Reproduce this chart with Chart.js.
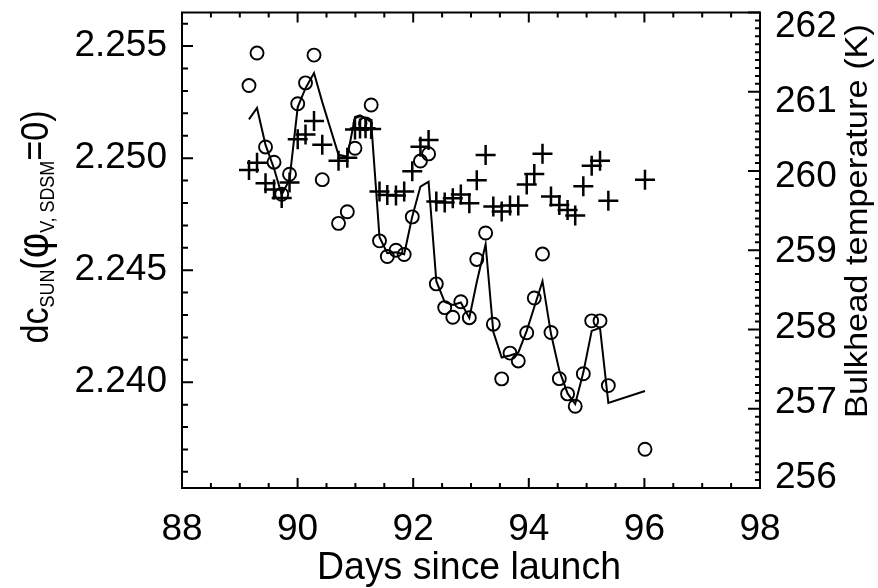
<!DOCTYPE html>
<html>
<head>
<meta charset="utf-8">
<title>dc_SUN vs days since launch</title>
<script src="https://cdn.jsdelivr.net/npm/chart.js@4.4.0/dist/chart.umd.min.js"></script>
<style>
  html, body { margin: 0; padding: 0; background: #fff; }
  #wrap { width: 878px; height: 588px; }
</style>
</head>
<body>
<div id="wrap"><canvas id="chart" width="878" height="588"></canvas></div>
<script>
// --- data ---
const days = [89.159, 89.298, 89.445, 89.592, 89.725, 89.860, 90.002, 90.137, 90.284, 90.427,
              90.708, 90.860, 90.993, 91.080, 91.175, 91.273, 91.417, 91.552, 91.702, 91.844,
              91.984, 92.125, 92.266, 92.400, 92.545, 92.685, 92.824, 92.971, 93.100, 93.253,
              93.386, 93.531, 93.675, 93.818, 93.964, 94.095, 94.237, 94.384, 94.528, 94.671,
              94.803, 94.943, 95.088, 95.232, 95.376, 96.010];

// open circles (left axis)
const dcObserved = [2.25324, 2.25469, 2.25050, 2.24982, 2.24839, 2.24928, 2.25243, 2.25336, 2.25460, 2.24904,
                    2.24709, 2.24761, 2.25044, 2.25157, 2.25153, 2.25237, 2.24631, 2.24561, 2.24589, 2.24570,
                    2.24738, 2.24987, 2.25019, 2.24439, 2.24333, 2.24290, 2.24359, 2.24288, 2.24548, 2.24666,
                    2.24259, 2.24015, 2.24130, 2.24095, 2.24221, 2.24376, 2.24572, 2.24222, 2.24016, 2.23948,
                    2.23893, 2.24038, 2.24274, 2.24274, 2.23985, 2.23701];

// solid line (left axis)
const dcModel = [2.25173, 2.25224, 2.25059, 2.24954, 2.24837, 2.24904, 2.25228, 2.25312, 2.25380, 2.25250,
                 2.25015, 2.25006, 2.25184, 2.25191, 2.25179, 2.25161, 2.24647, 2.24576, 2.24580, 2.24571,
                 2.24740, 2.24873, 2.24895, 2.24451, 2.24358, 2.24345, 2.24356, 2.24287, 2.24447, 2.24616,
                 2.24225, 2.24110, 2.24119, 2.24132, 2.24229, 2.24336, 2.24451, 2.24216, 2.24052, 2.23950,
                 2.23903, 2.24043, 2.24229, 2.24243, 2.23908, 2.23961];

// plus signs (right axis, K)
const bulkheadTemp = [260.013, 260.105, 259.845, 259.766, 259.659, 259.854, 260.400, 260.462, 260.632, 260.331,
                      260.130, 260.167, 260.525, 260.535, 260.538, 260.531, 259.741, 259.697, 259.690, 259.741,
                      259.998, 260.306, 260.390, 259.615, 259.603, 259.657, 259.703, 259.594, 259.883, 260.201,
                      259.552, 259.490, 259.565, 259.565, 259.829, 259.963, 260.218, 259.678, 259.571, 259.508,
                      259.439, 259.807, 260.067, 260.130, 259.624, 259.891];

// tick labels
const xTicks = [88, 90, 92, 94, 96, 98];
const dcTicks = [2.240, 2.245, 2.250, 2.255];
const tempTicks = [256, 257, 258, 259, 260, 261, 262];

const FONT = "'Liberation Sans', Arial, sans-serif";

// frame + inward ticks (IDL style), drawn through the chart scales
const frameTicks = {
    id: 'frameTicks',
    afterDatasetsDraw(chart) {
        const { ctx, chartArea: a, scales } = chart;
        ctx.save();
        ctx.strokeStyle = '#000';
        ctx.lineWidth = 2;
        ctx.strokeRect(a.left, a.top, a.right - a.left, a.bottom - a.top);
        ctx.beginPath();
        // x: minor every 0.5 day, major every 2
        for (let k = 176; k <= 196; k++) {
            const px = scales.x.getPixelForValue(k / 2);
            const len = (k % 4 === 0) ? 10 : 5;
            ctx.moveTo(px, a.bottom); ctx.lineTo(px, a.bottom - len);
            ctx.moveTo(px, a.top); ctx.lineTo(px, a.top + len);
        }
        // left: minor every 0.001
        for (let k = 2236; k <= 2256; k++) {
            const py = scales.y.getPixelForValue(k / 1000);
            const len = (k % 5 === 0) ? 11 : 6;
            ctx.moveTo(a.left, py); ctx.lineTo(a.left + len, py);
        }
        // right: minor every 0.1 K
        for (let k = 2560; k <= 2620; k++) {
            const py = scales.y1.getPixelForValue(k / 10);
            const len = (k % 10 === 0) ? 12 : 5;
            ctx.moveTo(a.right, py); ctx.lineTo(a.right - len, py);
        }
        ctx.stroke();

        // right tick labels: pulled slightly inward like the original
        const mid = (a.top + a.bottom) / 2;
        ctx.fillStyle = '#000';
        ctx.font = '37px ' + FONT;
        ctx.textAlign = 'left';
        ctx.textBaseline = 'middle';
        tempTicks.forEach(v => {
            const py = scales.y1.getPixelForValue(v);
            ctx.fillText(String(v), a.right + 15, mid + (py - mid) * 0.95 + 2);
        });
        ctx.restore();
    }
};

// axis titles (subscripts need rich text)
const axisTitles = {
    id: 'axisTitles',
    afterDraw(chart) {
        const ctx = chart.ctx;
        ctx.save();
        ctx.fillStyle = '#000';
        ctx.textBaseline = 'alphabetic';

        // left title
        const F = 38, f = 20;
        const parts = [
            { t: 'dc', size: F, dy: 0 },
            { t: 'SUN', size: f, dy: 6 },
            { t: '(', size: F, dy: 0 },
            { t: '\u03C6', size: F * 1.15, dy: 0 },
            { t: 'V, SDSM', size: f, dy: 6 },
            { t: '=0)', size: F, dy: 0 }
        ];
        let total = 0;
        parts.forEach(p => {
            ctx.font = p.size + 'px ' + FONT;
            p.w = ctx.measureText(p.t).width;
            total += p.w;
        });
        ctx.save();
        ctx.translate(48, 227);
        ctx.rotate(-Math.PI / 2);
        ctx.scale(233 / total, 1);
        ctx.textAlign = 'left';
        let x = -total / 2;
        parts.forEach(p => {
            ctx.font = p.size + 'px ' + FONT;
            ctx.fillText(p.t, x, p.dy);
            x += p.w;
        });
        ctx.restore();

        // right title
        ctx.save();
        ctx.font = '31px ' + FONT;
        const rt = 'Bulkhead temperature (K)';
        const rw = ctx.measureText(rt).width;
        ctx.translate(867, 221);
        ctx.rotate(-Math.PI / 2);
        ctx.scale(394 / rw, 1);
        ctx.textAlign = 'center';
        ctx.fillText(rt, 0, 0);
        ctx.restore();

        // bottom title
        ctx.save();
        ctx.font = '36px ' + FONT;
        const bt = 'Days since launch';
        const bw = ctx.measureText(bt).width;
        ctx.translate(469, 579);
        ctx.scale(304 / bw, 1.1);
        ctx.textAlign = 'center';
        ctx.fillText(bt, 0, 0);
        ctx.restore();

        ctx.restore();
    }
};

const toPoints = ys => days.map((d, i) => ({ x: d, y: ys[i] }));

new Chart(document.getElementById('chart').getContext('2d'), {
    type: 'line',
    data: {
        datasets: [
            {
                label: 'observed',
                data: toPoints(dcObserved),
                yAxisID: 'y',
                showLine: false,
                pointStyle: 'circle',
                pointRadius: 6.5,
                pointBorderWidth: 1.9,
                pointBorderColor: '#000',
                pointBackgroundColor: 'rgba(0,0,0,0)'
            },
            {
                label: 'model',
                data: toPoints(dcModel),
                yAxisID: 'y',
                borderColor: '#000',
                borderWidth: 2,
                pointRadius: 0,
                tension: 0,
                fill: false
            },
            {
                label: 'bulkhead',
                data: toPoints(bulkheadTemp),
                yAxisID: 'y1',
                showLine: false,
                pointStyle: 'cross',
                pointRadius: 10,
                pointBorderWidth: 2.5,
                pointBorderColor: '#000'
            }
        ]
    },
    options: {
        responsive: false,
        devicePixelRatio: 1,
        animation: false,
        layout: { padding: { top: 10, left: 0, right: 0, bottom: 0 } },
        plugins: {
            legend: { display: false },
            tooltip: { enabled: false }
        },
        scales: {
            x: {
                type: 'linear',
                min: 88,
                max: 98,
                afterBuildTicks: s => { s.ticks = xTicks.map(v => ({ value: v })); },
                afterFit: s => { s.height = 100; s.paddingLeft = 0; s.paddingRight = 0; },
                grid: { display: false, drawTicks: false },
                border: { display: false },
                ticks: {
                    color: '#000',
                    font: { family: FONT, size: 37 },
                    padding: 20,
                    maxRotation: 0,
                    autoSkip: false
                }
            },
            y: {
                type: 'linear',
                position: 'left',
                min: 2.23528,
                max: 2.2565,
                afterBuildTicks: s => { s.ticks = dcTicks.map(v => ({ value: v })); },
                afterFit: s => { s.width = 182; s.paddingTop = 0; s.paddingBottom = 0; },
                grid: { display: false, drawTicks: false },
                border: { display: false },
                ticks: {
                    color: '#000',
                    font: { family: FONT, size: 37 },
                    padding: 15,
                    autoSkip: false,
                    callback: v => v.toFixed(3)
                }
            },
            y1: {
                type: 'linear',
                position: 'right',
                min: 256,
                max: 262,
                afterBuildTicks: s => { s.ticks = tempTicks.map(v => ({ value: v })); },
                afterFit: s => { s.width = 118; s.paddingTop = 0; s.paddingBottom = 0; },
                grid: { display: false, drawTicks: false },
                border: { display: false },
                ticks: { display: false }
            }
        }
    },
    plugins: [frameTicks, axisTitles]
});
</script>
</body>
</html>
